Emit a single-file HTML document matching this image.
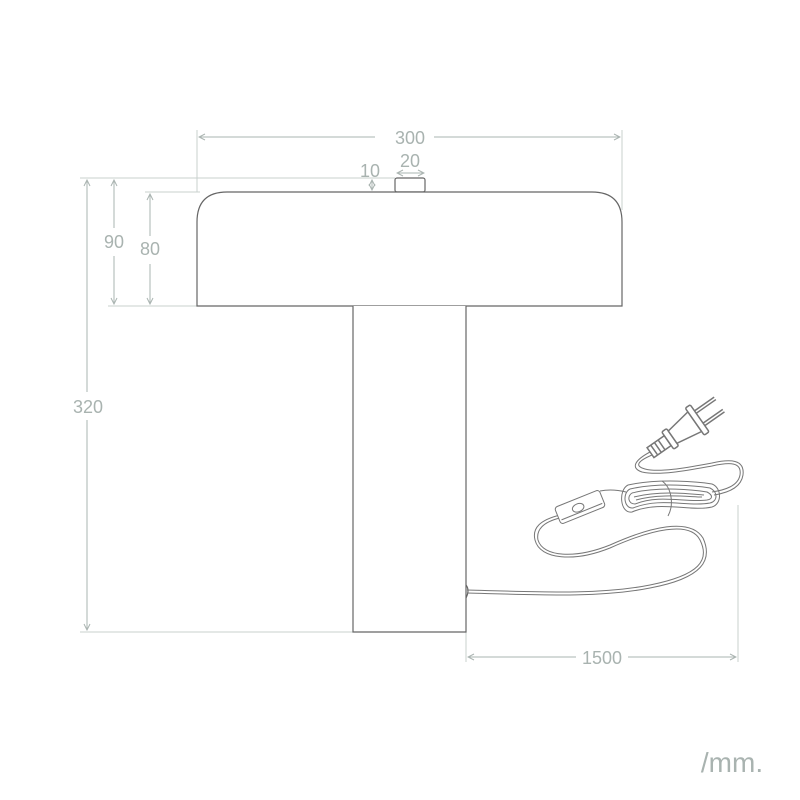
<!DOCTYPE html>
<html><head><meta charset="utf-8"><style>
html,body{margin:0;padding:0;background:#fff;}
svg{display:block;}
text{font-family:"Liberation Sans",sans-serif;fill:#a9b3b0;}
</style></head><body>
<svg width="800" height="800" viewBox="0 0 800 800" xmlns="http://www.w3.org/2000/svg">
<defs>
<marker id="a" markerWidth="8" markerHeight="8" refX="7" refY="4" orient="auto-start-reverse" markerUnits="userSpaceOnUse">
<path d="M1,1 L7,4 L1,7" fill="none" stroke="#aab4b1" stroke-width="1"/>
</marker>
</defs>
<g stroke="#c9d0ce" stroke-width="1" fill="none">
<line x1="80" y1="178" x2="395" y2="178"/>
<line x1="145" y1="192" x2="200" y2="192"/>
<line x1="108" y1="306" x2="197" y2="306"/>
<line x1="80" y1="632" x2="353" y2="632"/>
<line x1="197" y1="130" x2="197" y2="192"/>
<line x1="622" y1="130" x2="622" y2="210"/>
<line x1="738" y1="505" x2="738" y2="662"/>
<line x1="466" y1="632" x2="466" y2="662"/>
</g>
<g stroke="#aab4b1" stroke-width="1" fill="none">
<line x1="199" y1="137" x2="375" y2="137" marker-start="url(#a)"/>
<line x1="434" y1="137" x2="620" y2="137" marker-end="url(#a)"/>
<line x1="397" y1="173" x2="424" y2="173" marker-start="url(#a)" marker-end="url(#a)"/>
<line x1="372" y1="180" x2="372" y2="190" marker-start="url(#a)" marker-end="url(#a)"/>
<line x1="87" y1="180" x2="87" y2="392" marker-start="url(#a)"/>
<line x1="87" y1="420" x2="87" y2="630" marker-end="url(#a)"/>
<line x1="114" y1="180" x2="114" y2="228" marker-start="url(#a)"/>
<line x1="114" y1="256" x2="114" y2="304" marker-end="url(#a)"/>
<line x1="150" y1="194" x2="150" y2="236" marker-start="url(#a)"/>
<line x1="150" y1="264" x2="150" y2="304" marker-end="url(#a)"/>
<line x1="355" y1="485" x2="394" y2="485" marker-start="url(#a)"/>
<line x1="428" y1="485" x2="464" y2="485" marker-end="url(#a)"/>
<line x1="468" y1="657" x2="576" y2="657" marker-start="url(#a)"/>
<line x1="628" y1="657" x2="736" y2="657" marker-end="url(#a)"/>
</g>
<g font-size="18" text-anchor="middle">
<text x="410" y="144">300</text>
<text x="410" y="167">20</text>
<text x="370" y="177">10</text>
<text x="114" y="248">90</text>
<text x="150" y="255">80</text>
<text x="88" y="413">320</text>
<text x="410" y="491">80</text>
<text x="602" y="664">1500</text>
</g>
<text x="732" y="772" font-size="28" text-anchor="middle">/mm.</text>
<g stroke="#666" stroke-width="1.2" fill="#fff">
<rect x="395" y="178" width="30" height="14" rx="2"/>
<path d="M197,306 L197,222 Q197,192 227,192 L592,192 Q622,192 622,222 L622,306 Z"/>
<path d="M353,306 L353,632 L466,632 L466,306"/>
<path d="M466,585 Q470,590 466,598" fill="none"/>
</g>
<g stroke="#777" stroke-width="1" fill="none">
<path d="M467,590 C540,592 600,595 650,585 C700,575 710,560 700,540 C690,520 650,530 610,548 C575,562 540,560 535,540 C532,528 540,520 560,515"/>
<path d="M467,593 C540,595 600,598 650,588 C703,578 713,560 703,538 C690,517 650,527 610,545 C575,559 543,557 538,540 C536,530 543,522 560,518"/>
<g transform="rotate(-22 580 507)">
<rect x="556" y="498" width="48" height="18" rx="3" fill="#fff"/>
<line x1="558" y1="512" x2="602" y2="512"/>
<ellipse cx="578" cy="507" rx="6" ry="4"/>
</g>
<path d="M600,491 C610,489 618,490 626,492"/>
<path d="M628,485 C660,478 700,482 712,484 C722,488 722,504 712,507 C690,512 660,500 632,512 C620,514 618,490 628,485"/>
<path d="M630,489 C660,482 698,486 710,488 C718,492 718,501 710,503 C688,507 660,497 633,508 C624,509 622,493 630,489"/>
<path d="M632,493 C660,486 695,490 707,492 C713,495 713,499 707,500 C686,503 660,494 635,504 C628,504 627,496 632,493"/>
<path d="M634,497 C660,490 692,494 704,495 M636,500 C660,493 690,497 702,497"/>
<path d="M662,481 C672,488 674,505 668,516"/>
<path d="M712,492 C725,490 738,486 740,475 C742,462 730,462 712,466 C690,470 660,476 642,472 C630,468 635,460 650,452"/>
<path d="M714,495 C727,493 741,488 743,475 C745,459 730,459 712,463 C690,467 660,473 645,469 C634,466 638,461 652,455"/>
<g transform="translate(680 432) scale(1.5) translate(-680 -432) rotate(-35 680 432)">
<rect x="656" y="428" width="14" height="8" fill="#fff"/>
<line x1="659" y1="428" x2="659" y2="436"/><line x1="662" y1="428" x2="662" y2="436"/><line x1="665" y1="428" x2="665" y2="436"/>
<rect x="670" y="425" width="4" height="14" rx="1" fill="#fff"/>
<path d="M674,427 L692,424 L692,440 L674,437 Z" fill="#fff"/>
<rect x="692" y="421" width="4" height="22" rx="1" fill="#fff"/>
<line x1="696" y1="426" x2="712" y2="426"/><line x1="696" y1="428" x2="712" y2="428"/>
<line x1="696" y1="436" x2="712" y2="436"/><line x1="696" y1="438" x2="712" y2="438"/>
</g>
</g>
</svg>
</body></html>
